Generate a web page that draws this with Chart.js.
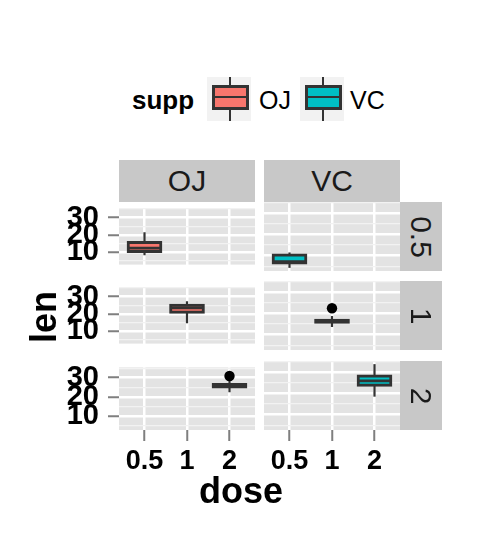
<!DOCTYPE html>
<html>
<head>
<meta charset="utf-8">
<script src="https://cdn.jsdelivr.net/npm/chart.js@4"></script>
<style>
  body { margin: 0; background: #fff; }
  #plot { position: relative; width: 480px; height: 537px; overflow: hidden;
          font-family: 'Liberation Sans', Arial, Helvetica, sans-serif; color: #000; }
  #plot canvas { position: absolute; }
  .abs { position: absolute; white-space: nowrap; line-height: 1; }
  .strip { position: absolute; background: #c8c8c8; display: flex; align-items: center;
           justify-content: center; font-size: 30px; line-height: 1; color: #1a1a1a; }
  .strip.side span { display: inline-block; transform: rotate(90deg); }
</style>
</head>
<body>
<div id="plot"></div>
<script>
// ToothGrowth: len by supp and dose (boxplot stats)
const supps = ['OJ', 'VC'];
const doses = ['0.5', '1', '2'];
const suppColors = ['#F8766D', '#00BFC4'];

const ojLow = [8.2, 14.5, 22.4];
const ojQ1 = [9.7, 20.3, 24.6];
const ojMedian = [12.25, 23.45, 25.95];
const ojQ3 = [16.2, 25.65, 27.1];
const ojHigh = [21.5, 27.3, 29.4];
const ojOutliers = [[], [], [30.9]];

const vcLow = [4.2, 13.6, 18.5];
const vcQ1 = [5.95, 15.3, 23.4];
const vcMedian = [7.15, 16.5, 25.95];
const vcQ3 = [10.9, 17.3, 28.8];
const vcHigh = [11.5, 18.8, 33.9];
const vcOutliers = [[], [22.5], []];

const yTicks = [10, 20, 30];
const yMinorTicks = [5, 15, 25, 35];
const yRange = [2.715, 35.385];

const stats = [
  { low: ojLow, q1: ojQ1, med: ojMedian, q3: ojQ3, high: ojHigh, out: ojOutliers },
  { low: vcLow, q1: vcQ1, med: vcMedian, q3: vcQ3, high: vcHigh, out: vcOutliers }
];

// layout (pixels)
const colLeft = [119, 264];
const rowTop = [202, 281, 361];
const panelW = 136, panelH = 69;
const M = 20;          // spare room around each panel canvas
const yAxisW = 119;    // room for y tick labels in the left column
const xAxisH = 50;     // room for x tick labels in the bottom row
const FONT = "'Liberation Sans', Arial, Helvetica, sans-serif";

Chart.defaults.font.family = FONT;

const plot = document.getElementById('plot');

const panelBg = {
  id: 'panelBg',
  beforeDraw(chart) {
    const a = chart.chartArea;
    const ctx = chart.ctx;
    ctx.save();
    ctx.fillStyle = '#e3e3e3';
    ctx.fillRect(a.left, a.top, a.right - a.left, a.bottom - a.top);
    ctx.restore();
  }
};

const isMajor = (ctx) => ctx.tick && yTicks.includes(ctx.tick.value);

function makePanel(r, c) {
  const isLeft = c === 0;
  const isBottom = r === doses.length - 1;
  const s = stats[c];
  const pos = r + 1;

  const canvas = document.createElement('canvas');
  const left = isLeft ? 0 : colLeft[c] - M;
  const width = isLeft ? colLeft[0] + panelW + M : panelW + 2 * M;
  const top = rowTop[r] - M;
  const height = panelH + 2 * M + (isBottom ? xAxisH : 0);
  canvas.width = width;
  canvas.height = height;
  canvas.style.left = left + 'px';
  canvas.style.top = top + 'px';
  plot.appendChild(canvas);

  new Chart(canvas, {
    type: 'bar',
    data: {
      datasets: [
        {
          type: 'line',
          data: [{ x: pos, y: s.low[r] }, { x: pos, y: s.high[r] }],
          borderColor: '#333333',
          borderWidth: 2.2,
          pointRadius: 0,
          order: 4
        },
        {
          type: 'bar',
          data: [{ x: pos, y: [s.q1[r], s.q3[r]] }],
          backgroundColor: suppColors[c],
          borderColor: '#333333',
          borderWidth: 3,
          borderSkipped: false,
          barThickness: 35,
          order: 3
        },
        {
          type: 'line',
          data: [{ x: pos - 0.4, y: s.med[r] }, { x: pos + 0.4, y: s.med[r] }],
          borderColor: '#333333',
          borderWidth: 2.8,
          pointRadius: 0,
          order: 2
        },
        {
          type: 'scatter',
          data: s.out[r].map(v => ({ x: pos, y: v })),
          pointRadius: 5.2,
          backgroundColor: '#000000',
          borderWidth: 0,
          order: 1
        }
      ]
    },
    options: {
      responsive: false,
      devicePixelRatio: 1,
      animation: false,
      layout: { padding: { left: isLeft ? 0 : M, right: M, top: M, bottom: M } },
      plugins: { legend: { display: false }, tooltip: { enabled: false } },
      scales: {
        x: {
          type: 'linear',
          min: 0.4,
          max: 3.6,
          offset: false,
          afterBuildTicks: (sc) => { sc.ticks = doses.map((d, i) => ({ value: i + 1 })); },
          afterFit: (sc) => { sc.height = isBottom ? xAxisH : 0; },
          border: { display: false },
          grid: {
            color: '#ffffff',
            lineWidth: 2.5,
            offset: false,
            drawTicks: isBottom,
            tickLength: 11,
            tickColor: '#7f7f7f',
            tickWidth: 2
          },
          ticks: {
            display: isBottom,
            autoSkip: false,
            maxRotation: 0,
            padding: 4,
            color: '#000000',
            font: { size: 27, weight: 'bold' },
            callback: (v) => doses[v - 1]
          }
        },
        y: {
          type: 'linear',
          min: yRange[0],
          max: yRange[1],
          afterBuildTicks: (sc) => {
            sc.ticks = yMinorTicks.concat(yTicks).sort((a, b) => a - b).map(v => ({ value: v }));
          },
          afterFit: (sc) => { sc.width = isLeft ? yAxisW : 0; },
          border: { display: false },
          grid: {
            color: (ctx) => isMajor(ctx) ? '#ffffff' : '#f2f2f2',
            lineWidth: (ctx) => isMajor(ctx) ? 2.5 : 1.2,
            drawTicks: isLeft,
            tickLength: 11,
            tickColor: (ctx) => isMajor(ctx) ? '#7f7f7f' : 'rgba(0,0,0,0)',
            tickWidth: 2
          },
          ticks: {
            display: isLeft,
            autoSkip: false,
            padding: 9,
            color: '#000000',
            font: { size: 29, weight: 'bold' },
            callback: (v) => yTicks.includes(v) ? String(v) : ''
          }
        }
      }
    },
    plugins: [panelBg]
  });
}

doses.forEach((d, r) => supps.forEach((sp, c) => makePanel(r, c)));

// facet strips
supps.forEach((sp, c) => {
  const el = document.createElement('div');
  el.className = 'strip';
  el.style.cssText = `left:${colLeft[c]}px;top:160px;width:${panelW}px;height:42px;`;
  el.textContent = sp;
  plot.appendChild(el);
});
doses.forEach((d, r) => {
  const el = document.createElement('div');
  el.className = 'strip side';
  el.style.cssText = `left:400px;top:${rowTop[r]}px;width:42px;height:${panelH}px;`;
  const span = document.createElement('span');
  span.textContent = d;
  el.appendChild(span);
  plot.appendChild(el);
});

// legend
function addText(text, x, y, css) {
  const el = document.createElement('div');
  el.className = 'abs';
  el.style.cssText = `left:${x}px;top:${y}px;` + css;
  el.textContent = text;
  plot.appendChild(el);
  return el;
}
function addRect(x, y, w, h, css) {
  const el = document.createElement('div');
  el.style.cssText = `position:absolute;box-sizing:border-box;left:${x}px;top:${y}px;width:${w}px;height:${h}px;` + css;
  plot.appendChild(el);
}
addText('supp', 132, 87, 'font-size:26px;font-weight:bold;');
const keyLeft = [207, 300];
const keyTextLeft = [259, 350];
supps.forEach((sp, i) => {
  const x = keyLeft[i];
  addRect(x, 77, 44, 44, 'background:#f2f2f2;');
  addRect(x + 21.5, 77, 2, 44, 'background:#333333;');
  addRect(x + 4.5, 84.5, 37, 25, `background:${suppColors[i]};border:3px solid #333333;`);
  addRect(x + 4.5, 95.6, 37, 2.8, 'background:#333333;');
  addText(sp, keyTextLeft[i], 88, 'font-size:25px;');
});

// axis titles
const yTitle = addText('len', 0, 0, 'font-size:36px;font-weight:bold;');
yTitle.style.left = (43.5 - 27) + 'px';
yTitle.style.top = (317 - 18) + 'px';
yTitle.style.width = '54px';
yTitle.style.textAlign = 'center';
yTitle.style.transform = 'rotate(-90deg)';
addText('dose', 161, 472.5, 'font-size:36px;font-weight:bold;width:160px;text-align:center;');
</script>
</body>
</html>
